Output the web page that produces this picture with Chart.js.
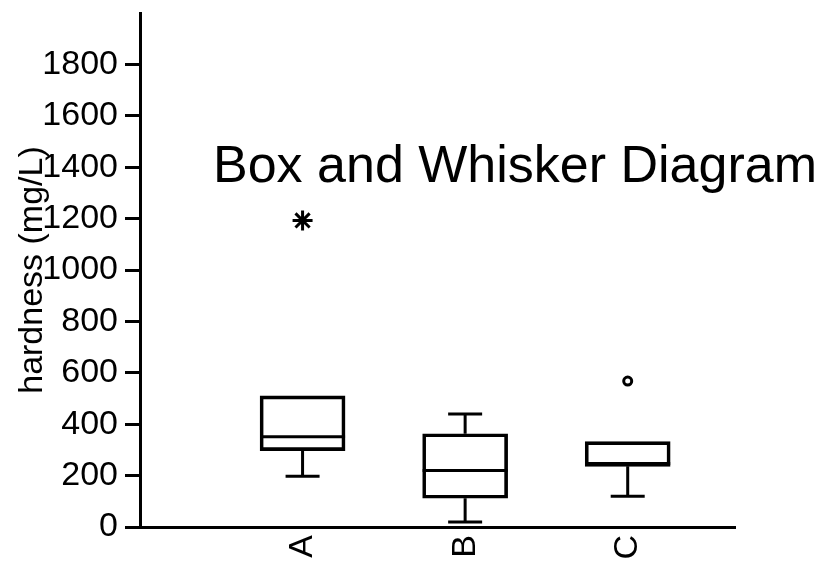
<!DOCTYPE html>
<html>
<head>
<meta charset="utf-8">
<title>Box and Whisker Diagram</title>
<script src="https://cdn.jsdelivr.net/npm/chart.js@4.4.1/dist/chart.umd.min.js"></script>
<style>
  html, body { margin: 0; padding: 0; background: #fff; }
</style>
</head>
<body>
<canvas id="chart" width="831" height="562"></canvas>
<script>
  // groups and their five-number summaries (mg/L)
  const categories = ['A', 'B', 'C'];
  const whiskerLow = [197, 19, 120];
  const q1 = [297, 112, 236];
  const median = [351, 220, 247];
  const q3 = [510, 363, 332];
  const whiskerHigh = [510, 440, 332];

  // outliers: extreme ones get a star, mild ones a circle
  const outlierGroup = ['A', 'C'];
  const outlierValue = [1193, 568];
  const outlierKind = ['extreme', 'mild'];

  const yTicks = [0, 200, 400, 600, 800, 1000, 1200, 1400, 1600, 1800];
  const titleText = 'Box and Whisker Diagram';
  const yTitle = 'hardness (mg/L)';

  const fontFamily = '"Liberation Sans", Arial, Helvetica, sans-serif';

  let boxData = categories.map((c, i) => ({ x: i + 1, y: [q1[i], q3[i]] }));
  let outlierData = outlierGroup.map((g, k) => ({ x: categories.indexOf(g) + 1, y: outlierValue[k] }));

  // median line + whiskers, drawn on top of the boxes
  const whiskerPlugin = {
    id: 'whiskers',
    afterDatasetsDraw(chart) {
      const ctx = chart.ctx;
      const ys = chart.scales.y;
      const bars = chart.getDatasetMeta(0).data;
      ctx.save();
      ctx.strokeStyle = '#000';
      ctx.lineWidth = 3;
      categories.forEach((c, i) => {
        const bar = bars[i];
        const cx = bar.x;
        const half = bar.width / 2;
        const cap = bar.width * 0.2;

        let yMed = ys.getPixelForValue(median[i]);
        ctx.beginPath();
        ctx.moveTo(cx - half, yMed);
        ctx.lineTo(cx + half, yMed);
        ctx.stroke();

        if (whiskerLow[i] < q1[i]) {
          let yLo = ys.getPixelForValue(whiskerLow[i]);
          ctx.beginPath();
          ctx.moveTo(cx, ys.getPixelForValue(q1[i]));
          ctx.lineTo(cx, yLo);
          ctx.moveTo(cx - cap, yLo);
          ctx.lineTo(cx + cap, yLo);
          ctx.stroke();
        }
        if (whiskerHigh[i] > q3[i]) {
          let yHi = ys.getPixelForValue(whiskerHigh[i]);
          ctx.beginPath();
          ctx.moveTo(cx, ys.getPixelForValue(q3[i]));
          ctx.lineTo(cx, yHi);
          ctx.moveTo(cx - cap, yHi);
          ctx.lineTo(cx + cap, yHi);
          ctx.stroke();
        }
      });
      ctx.restore();
    }
  };

  // the title sits inside the plot area in the original
  const titlePlugin = {
    id: 'insideTitle',
    afterDraw(chart) {
      const ctx = chart.ctx;
      ctx.save();
      ctx.font = '52px ' + fontFamily;
      ctx.fillStyle = '#000';
      ctx.textBaseline = 'alphabetic';
      ctx.fillText(titleText, chart.chartArea.left + 73, 182);
      ctx.restore();
    }
  };

  const ctx = document.getElementById('chart').getContext('2d');
  new Chart(ctx, {
    type: 'bar',
    data: {
      datasets: [{
        label: 'box',
        data: boxData,
        backgroundColor: 'rgba(255,255,255,0)',
        borderColor: '#000',
        borderWidth: 3,
        borderSkipped: false,
        barThickness: 85
      }, {
        type: 'scatter',
        label: 'outliers',
        data: outlierData,
        pointStyle: outlierKind.map(k => k === 'extreme' ? 'star' : 'circle'),
        pointRadius: outlierKind.map(k => k === 'extreme' ? 10 : 4),
        borderWidth: 3,
        borderColor: '#000',
        backgroundColor: '#fff'
      }]
    },
    options: {
      responsive: false,
      animation: false,
      layout: { padding: { top: 6, right: 96, bottom: 0, left: 0 } },
      plugins: {
        legend: { display: false },
        tooltip: { enabled: false }
      },
      scales: {
        x: {
          type: 'linear',
          min: 0,
          max: 3.66,
          offset: false,
          grid: { display: false },
          border: { display: true, color: '#000', width: 3 },
          afterBuildTicks: (axis) => { axis.ticks = categories.map((c, i) => ({ value: i + 1 })); },
          afterFit: (scale) => {
            scale.height = 35;
            scale.paddingLeft = 0;
            scale.paddingRight = 0;
          },
          ticks: {
            autoSkip: false,
            maxRotation: 90,
            minRotation: 90,
            padding: 0,
            color: '#000',
            font: { family: fontFamily, size: 34 },
            callback: (v) => categories[v - 1]
          }
        },
        y: {
          min: 0,
          max: 2000,
          grid: {
            display: true,
            drawOnChartArea: false,
            drawTicks: true,
            tickLength: 15,
            tickWidth: 3,
            tickColor: '#000'
          },
          border: { display: true, color: '#000', width: 3 },
          afterBuildTicks: (axis) => { axis.ticks = yTicks.map(v => ({ value: v })); },
          afterFit: (scale) => {
            scale.width = 140;
            scale.paddingTop = 0;
            scale.paddingBottom = 0;
          },
          ticks: {
            padding: 7,
            color: '#000',
            font: { family: fontFamily, size: 34 },
            callback: (v) => String(v)
          },
          title: {
            display: true,
            text: yTitle,
            color: '#000',
            padding: { top: 12, bottom: 0 },
            font: { family: fontFamily, size: 34 }
          }
        }
      }
    },
    plugins: [whiskerPlugin, titlePlugin]
  });
</script>
</body>
</html>
